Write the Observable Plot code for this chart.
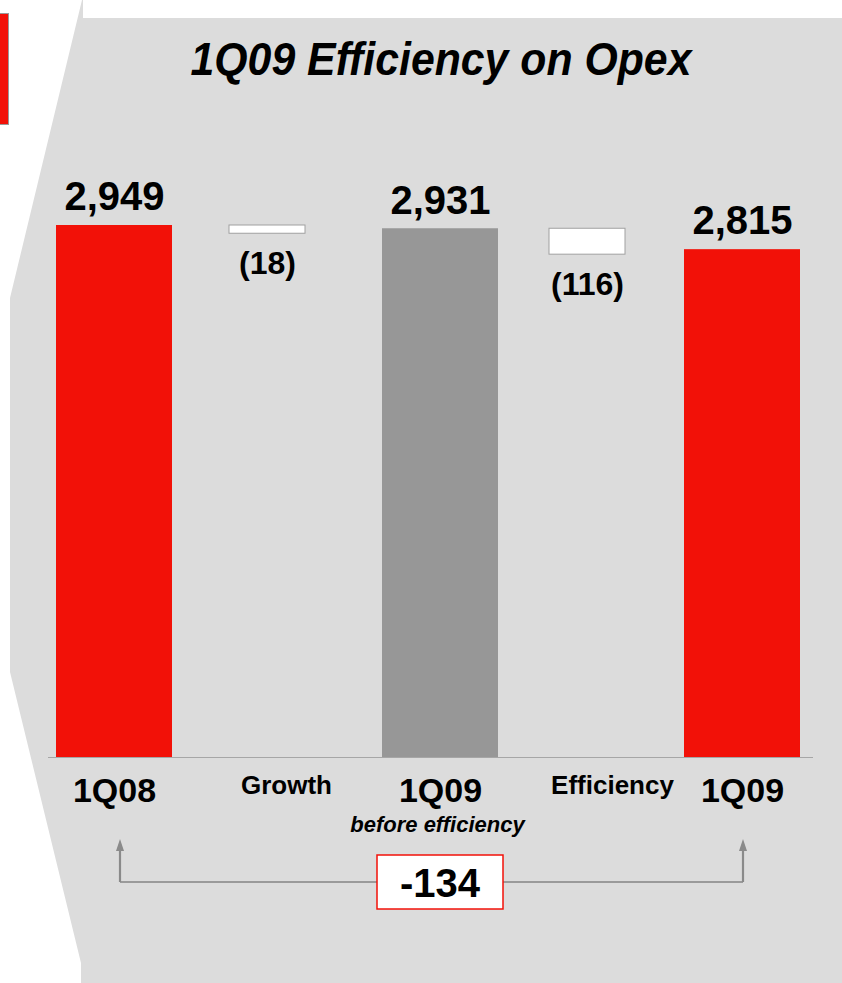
<!DOCTYPE html>
<html>
<head>
<meta charset="utf-8">
<script src="https://cdn.jsdelivr.net/npm/d3@7"></script>
<script src="https://cdn.jsdelivr.net/npm/@observablehq/plot@0.6"></script>
<style>
  html, body { margin: 0; padding: 0; background: #ffffff; }
  #page { position: relative; width: 842px; height: 983px; overflow: hidden; }
  #panel { position: absolute; left: 0; top: 0; width: 842px; height: 983px; background: #dcdcdc;
    clip-path: polygon(82px 0px, 83px 0px, 83px 18px, 842px 18px, 842px 983px, 81px 983px, 81px 963px, 10px 672px, 10px 298px); }
  #tab { position: absolute; left: -2px; top: 13px; width: 9px; height: 110px; background: #f21108; border: 1px solid #999; }
  #title { position: absolute; left: 40px; top: 36px; width: 802px; text-align: center;
    font-family: "Liberation Sans", Arial, sans-serif; font-weight: bold; font-style: italic;
    font-size: 46px; line-height: 1; color: #000; transform: scaleX(0.93); transform-origin: 401px 0; }
  #chart { position: absolute; left: 0; top: 0; }
</style>
</head>
<body>
<div id="page">
  <div id="panel"></div>
  <div id="tab"></div>
  <div id="chart"></div>
  <div id="title">1Q09 Efficiency on Opex</div>
</div>
<script>
// ---- data ----
const categories = ["1Q08", "Growth", "1Q09", "Efficiency", "1Q09 after"];
const labels = ["1Q08", "Growth", "1Q09", "Efficiency", "1Q09"];
const subLabels = ["", "", "before efficiency", "", ""];
const values = [2949, -18, 2931, -116, 2815];
const kinds = ["total", "step", "total", "step", "total"];
const valueLabels = ["2,949", "(18)", "2,931", "(116)", "2,815"];
const bracketFrom = "1Q08";
const bracketTo = "1Q09 after";
const bracketLabel = "-134";

// ---- build waterfall rows ----
let running = 0;
const rows = categories.map((key, i) => {
  const kind = kinds[i];
  let start, end;
  if (kind === "total") { start = 0; end = values[i]; running = values[i]; }
  else { start = running; end = running + values[i]; running = end; }
  return { key, label: labels[i], sub: subLabels[i], value: values[i], kind, start, end, valueLabel: valueLabels[i] };
});
const outer = rows.filter(d => d.kind === "total" && !d.sub);
const middle = rows.filter(d => d.kind === "total" && d.sub);
const growth = rows.filter(d => d.key === "Growth");
const effic = rows.filter(d => d.key === "Efficiency");

const RED = "#f21108";
const GRAY = "#979797";
const FONT = "Liberation Sans, Arial, sans-serif";
const MID_DX = 12;

function totalMarks(data, fill, dx) {
  return [
    Plot.barY(data, { x: "key", y1: "start", y2: "end", fill, dx }),
    Plot.text(data, { x: "key", y: "end", text: "valueLabel", dy: -28, dx, fontSize: 40, fontWeight: "bold", fill: "black" }),
    Plot.text(data, { x: "key", y: 0, text: "label", dy: 34, dx, fontSize: 34, fontWeight: "bold", fill: "black" })
  ];
}
function stepMarks(data, barDx, labelDx) {
  return [
    Plot.barY(data, { x: "key", y1: "start", y2: "end", fill: "white", stroke: "#a0a0a0", strokeWidth: 1, insetLeft: 20, insetRight: 20, insetBottom: -5, dx: barDx }),
    Plot.text(data, { x: "key", y: "end", text: "valueLabel", dy: 35, dx: barDx, fontSize: 32, fontWeight: "bold", fill: "black" }),
    Plot.text(data, { x: "key", y: 0, text: "label", dy: 28, dx: labelDx, fontSize: 26, fontWeight: "bold", fill: "black" })
  ];
}

const plot = Plot.plot({
  width: 842,
  height: 983,
  marginLeft: 14,
  marginRight: 0,
  marginTop: 0,
  marginBottom: 0,
  x: { domain: categories, padding: 0.26, axis: null },
  y: { domain: [0, 2949], range: [757, 225], axis: null },
  style: { background: "transparent", fontFamily: FONT, overflow: "visible" },
  marks: [
    ...totalMarks(outer, RED, 0),
    ...totalMarks(middle, GRAY, MID_DX),
    Plot.text(middle, { x: "key", y: 0, text: "sub", dy: 67, dx: MID_DX - 3, fontSize: 22, fontWeight: "bold", fontStyle: "italic", fill: "black" }),
    ...stepMarks(growth, -4, 15),
    ...stepMarks(effic, 2, 27),
    Plot.ruleY([0], { stroke: "#a6a6a6", strokeWidth: 1.2, insetLeft: 34, insetRight: 29 })
  ]
});
document.getElementById("chart").appendChild(plot);

// ---- bracket annotation using the plot's own x scale ----
const xs = plot.scale("x");
const bw = xs.bandwidth;
function cx(k) {
  if (typeof xs.apply === "function") return xs.apply(k) + bw / 2;
  const s = d3.scaleBand(xs.domain, xs.range).paddingInner(xs.paddingInner).paddingOuter(xs.paddingOuter).align(xs.align ?? 0.5);
  return s(k) + s.bandwidth() / 2;
}
const ys = plot.scale("y");
const base = typeof ys.apply === "function" ? ys.apply(0) : 757;
const svg = d3.select(plot);
const g = svg.append("g");
const xa = cx(bracketFrom) + 6, xb = cx(bracketTo) + 1;
const yLine = base + 125, yTop = base + 82;
g.append("path").attr("d", `M${xa},${yLine}H${xb}`).attr("stroke", "#9a9a9a").attr("stroke-width", 2).attr("fill", "none");
for (const x of [xa, xb]) {
  g.append("path").attr("d", `M${x},${yLine}V${yTop + 8}`).attr("stroke", "#8a8a8a").attr("stroke-width", 2.2).attr("fill", "none");
  g.append("path").attr("d", `M${x - 4},${yTop + 12}L${x},${yTop}L${x + 4},${yTop + 12}Z`).attr("fill", "#8a8a8a");
}
const bx = cx("1Q09") + MID_DX;
g.append("rect").attr("x", bx - 63).attr("y", yLine - 27).attr("width", 126).attr("height", 54)
  .attr("fill", "white").attr("stroke", "#f21108").attr("stroke-width", 1.5);
g.append("text").attr("x", bx).attr("y", yLine + 1).attr("text-anchor", "middle").attr("dominant-baseline", "central")
  .attr("font-family", FONT).attr("font-weight", "bold").attr("font-size", 40).attr("fill", "black").text(bracketLabel);
</script>
</body>
</html>
